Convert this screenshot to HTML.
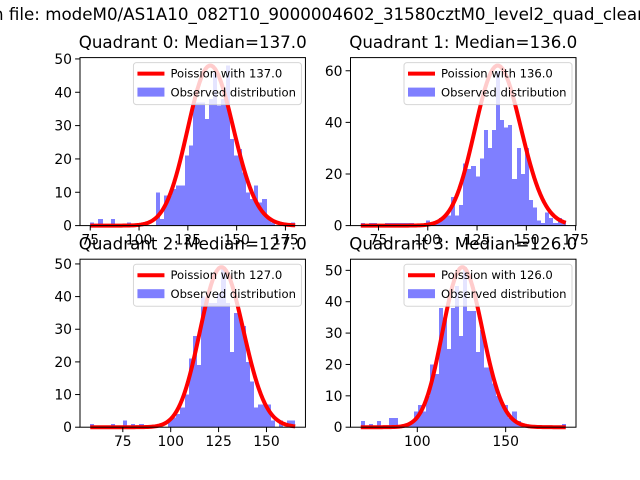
<!DOCTYPE html>
<html><head><meta charset="utf-8"><style>
html,body{margin:0;padding:0;background:#fff;}
svg{display:block;font-family:"DejaVu Sans","Liberation Sans",sans-serif;}
</style></head><body>
<svg id="fig" width="640" height="480" viewBox="0 0 640 480">
<rect width="640" height="480" fill="#fff"/>
<text x="-7" y="20" font-size="16.7" fill="#000">n file: modeM0/AS1A10_082T10_9000004602_31580cztM0_level2_quad_clean</text>
</svg>
<script>
const medians = [137, 136, 127, 126];
const dataMin = [75, 66, 58, 68];
const dataMax = [180, 170, 165, 184];
const curvePeaks = [48, 62, 49, 51];
const counts0 = [1,0,2,0,0,2,0,0,0,1,0,0,0,0,0,0,10,2,9,9,11,12,12,21,24,37,37,37,32,38,46,36,38,48,26,21,23,16,10,8,12,7,8,2,1,0,1,0,0,1];
const counts1 = [1,0,1,1,0,0,1,1,1,1,1,1,1,0,0,0,2,1,1,3,4,4,11,4,8,24,22,23,19,26,37,30,37,60,41,38,39,18,30,20,30,10,7,2,1,5,3,1,3,2];
const counts2 = [1,0,0,0,0,1,0,0,2,0,1,0,1,0,0,0,0,0,0,2,3,4,6,10,21,28,19,40,39,38,38,41,49,38,23,35,34,31,20,14,6,7,7,7,2,0,2,0,2,2];
const counts3 = [2,0,1,0,2,0,0,3,3,0,0,1,2,5,7,5,10,20,17,38,35,25,38,45,29,51,37,37,24,31,19,19,14,10,8,7,3,5,2,1,0,0,0,0,0,0,0,0,0,1];
const allCounts = [counts0, counts1, counts2, counts3];
const xTicks = [[75,100,125,150,175],[75,100,125,150,175],[75,100,125,150],[100,150]];
const yTicks = [[0,10,20,30,40,50],[0,20,40,60],[0,10,20,30,40,50],[0,10,20,30,40,50]];

const NS = "http://www.w3.org/2000/svg";
const svg = document.getElementById('fig');
function mk(tag, attrs, parent){const e=document.createElementNS(NS,tag);for(const k in attrs)e.setAttribute(k,attrs[k]);(parent||svg).appendChild(e);return e;}
function lnfact(k){let s=0;for(let i=2;i<=k;i++)s+=Math.log(i);return s;}
function pmf(k,l){return Math.exp(k*Math.log(l)-l-lnfact(k));}

const boxes = [[80,57.6,225.45,168],[350.5,57.6,225.5,168],[80,259.2,225.45,168],[350.5,259.2,225.5,168]];

for (let q=0;q<4;q++){
  const [L,T,W,H] = boxes[q];
  const counts = allCounts[q];
  const mn = dataMin[q], mx = dataMax[q];
  const rng = mx-mn, nb = counts.length, bw = rng/nb;
  const x0 = mn-0.05*rng, x1 = mx+0.05*rng;
  const ymax = Math.max(curvePeaks[q], Math.max(...counts))*1.05;
  const X = v => L + (v-x0)/(x1-x0)*W;
  const Y = v => T + H - v/ymax*H;
  const g = mk('g',{});
  
  
  const bars = mk('g',{'fill':'#0000ff','fill-opacity':0.5},g);
  counts.forEach((c,i)=>{
    if(c<=0) return;
    const xa = Math.round(X(mn+i*bw)), xb = Math.round(X(mn+(i+1)*bw));
    const r = mk('rect',{x:xa,y:Y(c),width:xb-xa,height:Y(0)-Y(c),'shape-rendering':'crispEdges'},bars);
    
    
  });
  const lam = medians[q];
  const scale = curvePeaks[q]/pmf(Math.floor(lam),lam);
  let d='';
  for(let k=mn;k<=mx;k++){d+=(k===mn?'M':'L')+X(k).toFixed(2)+','+Y(scale*pmf(k,lam)).toFixed(2);}
  const cv = mk('path',{d:d,fill:'none',stroke:'#ff0000','stroke-width':4,'stroke-linejoin':'round'},g);
  
  
  const fr = mk('rect',{x:L,y:T,width:W,height:H,fill:'none',stroke:'#000','stroke-width':1},g);
  
  
  xTicks[q].forEach(t=>{
    mk('line',{x1:X(t),x2:X(t),y1:T+H,y2:T+H+4.9,stroke:'#000','stroke-width':1},g);
    const tx = mk('text',{x:X(t),y:T+H+19,'font-size':13.9,'text-anchor':'middle'},g);
    tx.textContent = t;
    
    
  });
  yTicks[q].forEach(t=>{
    mk('line',{x1:L-4.9,x2:L,y1:Y(t),y2:Y(t),stroke:'#000','stroke-width':1},g);
    const tx = mk('text',{x:L-8,y:Y(t)+5,'font-size':13.9,'text-anchor':'end'},g);
    tx.textContent = t;
    
    
  });
  const ti = mk('text',{x:L+W/2,y:T-9.5,'font-size':16.7,'text-anchor':'middle'},g);
  ti.textContent = 'Quadrant '+q+': Median='+medians[q].toFixed(1);
  
  
  const lg = mk('g',{},g);
  
  
  const lx = L+W-172, ly = T+5;
  mk('rect',{x:lx,y:ly,width:168,height:42,rx:3,fill:'#fff','fill-opacity':0.8,stroke:'#cccccc','stroke-opacity':0.8},lg);
  mk('line',{x1:lx+4,x2:lx+31,y1:ly+11,y2:ly+11,stroke:'#ff0000','stroke-width':4},lg);
  const t1 = mk('text',{x:lx+37,y:ly+15,'font-size':11.6},lg);
  t1.textContent = 'Poission with '+medians[q].toFixed(1);
  
  
  mk('rect',{x:lx+4,y:ly+25,width:27,height:9,fill:'#0000ff','fill-opacity':0.5},lg);
  const t2 = mk('text',{x:lx+37,y:ly+34,'font-size':11.6},lg);
  t2.textContent = 'Observed distribution';
  
  
}
</script>
</body></html>
